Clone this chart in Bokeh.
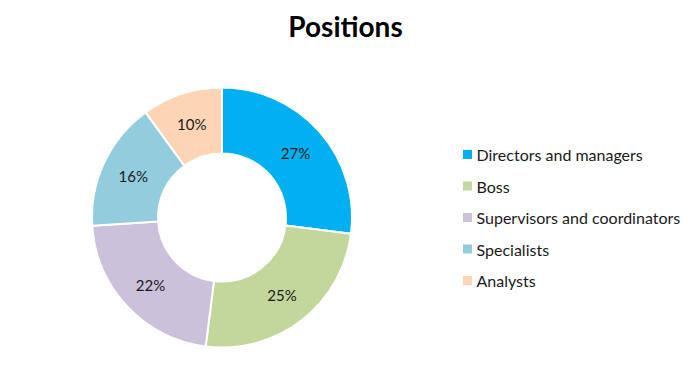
import math
from bokeh.plotting import figure
from bokeh.models import ColumnDataSource, Range1d
from bokeh.core.properties import value
from bokeh.embed import file_html
from bokeh.resources import INLINE

title = "Positions"
categories = ["Directors and managers", "Boss", "Supervisors and coordinators", "Specialists", "Analysts"]
values = [27, 25, 22, 16, 10]
colors = ["#00B0F0", "#C3D69B", "#CCC1DA", "#93CDDD", "#FBD5B5"]

W, H = 692, 377
p = figure(width=W, height=H, output_backend="svg", toolbar_location=None,
           x_range=Range1d(0, W), y_range=Range1d(0, H), min_border=0)
p.axis.visible = False
p.grid.visible = False
p.outline_line_color = None
p.background_fill_color = "white"
p.border_fill_color = "white"

cx, cy = 221.5, H - 217
r_out, r_in = 130, 64
total = sum(values)

starts, ends, lx, ly, labels = [], [], [], [], []
cum = 0
for v in values:
    a0 = math.pi / 2 - 2 * math.pi * cum / total
    cum += v
    a1 = math.pi / 2 - 2 * math.pi * cum / total
    starts.append(a0)
    ends.append(a1)
    mid = (a0 + a1) / 2
    rm = (r_out + r_in) / 2 + 1
    lx.append(cx + rm * math.cos(mid))
    ly.append(cy + rm * math.sin(mid))
    labels.append(f"{round(100 * v / total)}%")

src = ColumnDataSource(dict(start=starts, end=ends, color=colors, lx=lx, ly=ly, label=labels))
p.annular_wedge(x=cx, y=cy, inner_radius=r_in, outer_radius=r_out,
                start_angle="start", end_angle="end", direction="clock",
                fill_color="color", line_color="white", line_width=2, source=src)
p.text(x="lx", y="ly", text="label", source=src, text_align="center", text_baseline="middle",
       text_font=value("Lato"), text_font_size="15px", text_color="#1a1a1a")

# title
p.text(x=[345], y=[H - 25], text=[title], text_align="center", text_baseline="middle",
       text_font=value("Lato"), text_font_size="28px", text_font_style="bold", text_color="#000000")

# legend
ly0, step = H - 154, 31.5
leg_y = [ly0 - i * step for i in range(len(categories))]
leg_src = ColumnDataSource(dict(y=leg_y, color=colors, name=categories))
p.rect(x=467, y="y", width=9, height=9, fill_color="color", line_color=None, source=leg_src)
p.text(x=476, y="y", text="name", source=leg_src, text_align="left", text_baseline="middle",
       text_font=value("Lato"), text_font_size="16px", text_color="#1a1a1a")

open("out.html", "w").write(file_html(p, INLINE))
